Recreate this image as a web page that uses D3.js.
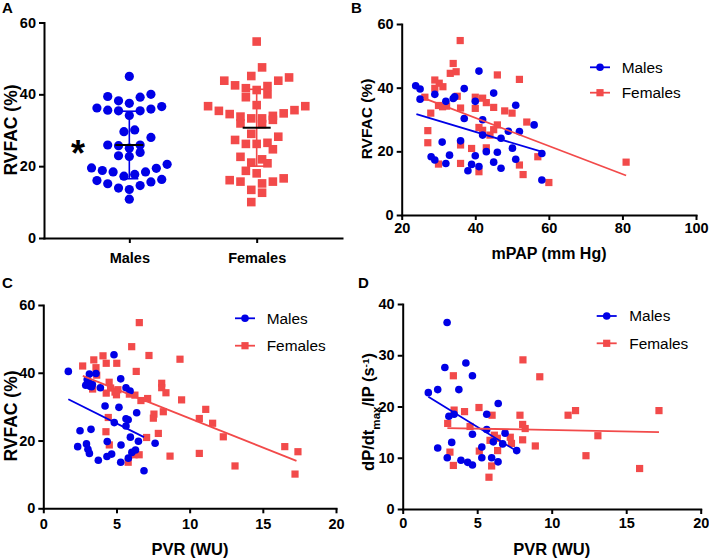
<!DOCTYPE html>
<html><head><meta charset="utf-8">
<script src="https://cdn.jsdelivr.net/npm/d3@7"></script>
<style>body{margin:0;background:#fff}svg{display:block}text{font-family:"Liberation Sans",Arial,sans-serif}</style>
</head><body><svg id="c" width="709" height="560"></svg>
<script>
const BLUE = "#0000e6", RED = "#f24a4a";

// ---------- Panel A ----------
const groupsA = ["Males", "Females"];
const malesA = [45.0,37.5,36.2,39.4,38.2,39.2,40.0,35.6,35.4,34.1,35.4,35.9,36.6,30.1,29.6,28.0,25.9,25.0,22.9,22.7,23.8,25.7,25.9,18.4,17.2,19.5,18.8,19.4,20.5,17.7,18.4,16.3,15.6,15.1,16.0,14.6,13.9,13.5,10.8];
const femalesA = [54.7,47.5,45.1,44.7,43.8,42.5,43.8,41.7,41.2,42.3,40.0,39.2,37.0,36.7,36.7,35.6,34.7,34.0,33.3,32.9,33.3,33.8,34.5,35.4,31.7,31.9,29.0,28.2,26.5,26.2,24.7,26.2,27.3,21.9,20.8,22.6,21.0,18.0,18.7,16.1,15.7,15.2,15.7,16.6,13.4,12.6,10.0];
const meanA = [25.9, 30.7];
const sdA = [9.4, 10.7];
const yTicksA = [0, 20, 40, 60];

// ---------- Panel B (mPAP vs RVFAC) ----------
const malesB = [[23.8,40.6],[25.0,39.6],[25.0,36.4],[29.0,37.9],[32.0,35.7],[34.0,36.6],[34.4,37.1],[37.0,39.7],[41.0,45.2],[40.0,35.7],[45.0,38.3],[51.0,34.5],[37.0,30.3],[42.0,29.9],[42.0,25.1],[49.0,26.3],[52.0,26.2],[56.0,28.3],[47.0,24.1],[50.1,21.0],[36.0,23.3],[31.0,22.9],[28.0,18.3],[29.0,17.3],[33.0,18.8],[32.0,16.2],[40.0,18.6],[39.0,15.9],[41.0,15.2],[38.0,13.9],[43.0,19.9],[46.0,19.7],[45.0,16.6],[51.0,17.5],[47.0,14.7],[58.1,19.3],[58.1,11.0]];
const femalesB = [[35.9,54.8],[34.0,47.6],[33.2,44.5],[34.8,45.0],[29.0,42.4],[30.2,41.4],[31.2,40.3],[29.0,39.8],[26.3,37.0],[27.9,32.0],[30.0,34.4],[31.1,34.0],[32.2,34.2],[35.1,37.3],[36.0,33.6],[40.0,37.0],[42.0,36.7],[43.0,35.3],[40.0,33.5],[45.0,33.8],[46.0,44.0],[52.0,42.6],[48.0,32.7],[50.0,32.0],[54.0,29.2],[41.0,27.5],[42.0,26.6],[44.0,25.1],[45.0,26.8],[46.0,28.3],[27.1,26.5],[27.1,22.7],[36.0,22.0],[39.0,20.9],[43.0,21.1],[36.0,16.2],[30.0,16.0],[41.0,13.6],[52.0,15.7],[53.0,12.7],[57.0,18.3],[60.0,10.2],[81.0,16.6]];
const fitMalesB = [[24, 31.7], [58, 19.9]];
const fitFemalesB = [[26, 36.7], [81, 12.4]];
const xTicksB = [20, 40, 60, 80, 100];
const yTicksB = [0, 20, 40, 60];

// ---------- Panel C (PVR vs RVFAC) ----------
const malesC = [[1.71,40.4],[4.83,45.3],[3.15,39.6],[3.6,39.8],[5.29,38.2],[3.0,38.0],[2.9,36.3],[3.2,36.0],[3.1,37.3],[3.35,36.6],[3.3,35.9],[3.9,35.6],[5.65,35.6],[5.93,34.6],[4.22,30.2],[5.17,29.8],[6.38,28.2],[5.65,26.4],[5.8,26.1],[4.85,25.3],[5.65,24.3],[2.51,22.9],[3.26,23.3],[5.95,21.0],[4.37,19.7],[6.5,19.8],[7.64,19.2],[2.35,18.2],[2.95,19.0],[3.05,17.4],[3.15,16.2],[5.31,18.7],[3.76,14.2],[4.35,15.3],[4.67,16.0],[5.29,13.6],[5.81,14.8],[6.05,16.5],[6.3,17.2],[6.88,11.1]];
const femalesC = [[6.56,54.8],[6.04,47.7],[7.22,45.1],[9.34,44.0],[2.69,42.0],[3.45,43.8],[4.08,45.0],[4.3,42.8],[5.02,42.8],[3.6,41.5],[3.65,39.3],[6.35,40.4],[3.37,35.2],[4.5,37.2],[4.6,35.5],[4.9,34.3],[5.0,33.5],[4.3,34.0],[5.1,35.0],[5.88,33.7],[6.26,33.4],[6.67,31.8],[7.13,32.4],[8.09,36.9],[8.09,35.6],[8.38,34.1],[9.45,32.0],[8.2,28.5],[7.56,27.8],[7.52,26.6],[10.66,26.5],[11.1,29.2],[11.57,25.1],[12.3,21.1],[7.86,22.1],[7.06,20.9],[4.28,22.6],[4.51,18.7],[6.2,15.8],[6.55,15.8],[5.8,13.6],[8.66,15.4],[10.66,16.2],[13.1,12.5],[16.5,18.2],[17.4,16.7],[17.2,10.1],[4.44,26.8]];
const fitMalesC = [[1.71, 32.2], [6.88, 21.0]];
const fitFemalesC = [[2.7, 39.1], [17.3, 14.0]];
const xTicksC = [0, 5, 10, 15, 20];
const yTicksC = [0, 20, 40, 60];

// ---------- Panel D (PVR vs dP/dtmax/IP) ----------
const malesD = [[2.98,36.4],[2.83,27.6],[4.24,28.5],[4.68,26.0],[1.72,22.7],[2.35,23.3],[3.77,23.3],[3.1,18.1],[3.45,18.5],[6.41,20.6],[5.64,18.5],[4.68,14.6],[5.64,15.5],[6.08,13.1],[6.87,14.8],[6.71,12.7],[7.65,11.4],[3.29,13.0],[2.35,11.9],[5.31,12.1],[2.99,10.0],[3.91,9.5],[4.36,9.1],[4.68,8.6],[5.31,10.0],[5.97,10.0],[6.4,9.2]];
const femalesD = [[8.07,29.1],[9.2,25.8],[3.4,26.0],[3.45,19.3],[4.15,19.0],[5.12,19.8],[6.0,18.3],[7.87,18.3],[8.05,16.5],[8.22,15.7],[3.02,16.7],[4.52,16.1],[6.15,14.4],[6.35,13.8],[5.86,13.4],[7.22,14.0],[7.3,12.8],[8.05,13.5],[8.9,12.3],[5.14,11.3],[3.17,11.1],[6.37,11.4],[3.4,8.5],[5.97,8.4],[5.79,6.2],[11.1,18.3],[11.6,19.2],[13.1,14.3],[12.3,10.4],[15.9,7.9],[17.2,19.2]];
const fitMalesD = [[1.72, 21.9], [7.65, 11.3]];
const fitFemalesD = [[3.0, 15.8], [17.2, 15.0]];
const xTicksD = [0, 5, 10, 15, 20];
const yTicksD = [0, 10, 20, 30, 40];

const seriesNames = ["Males", "Females"];

const svg = d3.select("#c");

function styleAxis(g, fs) {
  g.select(".domain").attr("stroke", "#000").attr("stroke-width", 2).attr("stroke-linecap", "square");
  g.selectAll(".tick line").attr("stroke", "#000").attr("stroke-width", 2);
  g.selectAll(".tick text").attr("fill", "#000").attr("font-weight", "bold").attr("font-size", fs)
    .attr("font-family", '"Liberation Sans",Arial,sans-serif');
}

function drawAxes(x, y, xAxisGen, yAxisGen) {
  const gx = svg.append("g").attr("transform", `translate(0,${y.range()[0]})`).call(xAxisGen);
  styleAxis(gx, 14.5);
  const gy = svg.append("g").attr("transform", `translate(${x.range()[0]},0)`).call(yAxisGen);
  styleAxis(gy, 14.5);
}

function circles(g, data, x, y, r, color) {
  g.selectAll(null).data(data).enter().append("circle")
    .attr("cx", d => x(d[0])).attr("cy", d => y(d[1])).attr("r", r).attr("fill", color);
}
function squares(g, data, x, y, s, color) {
  g.selectAll(null).data(data).enter().append("rect")
    .attr("x", d => x(d[0]) - s / 2).attr("y", d => y(d[1]) - s / 2)
    .attr("width", s).attr("height", s).attr("fill", color);
}
function fitLine(g, pts, x, y, color) {
  g.append("path").datum(pts)
    .attr("d", d3.line().x(d => x(d[0])).y(d => y(d[1])))
    .attr("stroke", color).attr("stroke-width", 1.8).attr("fill", "none");
}
function legend(lx, ly0, ly1, tx) {
  const g = svg.append("g");
  const rows = [[seriesNames[0], ly0, BLUE, "c"], [seriesNames[1], ly1, RED, "s"]];
  rows.forEach(([name, yy, col, shape]) => {
    g.append("line").attr("x1", lx - 10).attr("x2", lx + 10).attr("y1", yy).attr("y2", yy)
      .attr("stroke", col).attr("stroke-width", 1.8);
    if (shape === "c") g.append("circle").attr("cx", lx).attr("cy", yy).attr("r", 3.8).attr("fill", col);
    else g.append("rect").attr("x", lx - 3.6).attr("y", yy - 3.6).attr("width", 7.2).attr("height", 7.2).attr("fill", col);
    g.append("text").attr("x", tx).attr("y", yy + 5.3).attr("font-size", 15.4).attr("fill", "#000").text(name);
  });
}
function yTitle(x, cy, fs, str) {
  return svg.append("text").attr("transform", `translate(${x},${cy}) rotate(-90)`)
    .attr("text-anchor", "middle").attr("font-weight", "bold").attr("font-size", fs).attr("fill", "#000").text(str);
}
function xTitle(cx, y, fs, str) {
  svg.append("text").attr("x", cx).attr("y", y).attr("text-anchor", "middle")
    .attr("font-weight", "bold").attr("font-size", fs).attr("fill", "#000").text(str);
}
function panelLetter(x, y, s) {
  svg.append("text").attr("x", x).attr("y", y).attr("font-weight", "bold").attr("font-size", 15).attr("fill", "#000").text(s);
}

// row-binned dot-plot layout: values grouped into bins, spread side by side,
// smallest values nearest the centre
function dotRows(vals, binW, binOff, spacing) {
  const bins = d3.groups(vals, v => Math.floor((v - binOff) / binW));
  const out = [];
  bins.forEach(([, arr]) => {
    const s = arr.slice().sort((a, b) => a - b);
    const n = s.length;
    const offs = d3.range(n).map(i => (i - (n - 1) / 2) * spacing)
      .sort((a, b) => Math.abs(a) - Math.abs(b) || a - b);
    s.forEach((v, i) => out.push({ v, dx: offs[i] }));
  });
  return out;
}

// ===== Panel A =====
{
  const x = d3.scalePoint().domain(groupsA).range([44, 342]).padding(0.67);
  const y = d3.scaleLinear().domain([0, 60]).range([238, 22.5]);
  drawAxes(x, y,
    d3.axisBottom(x).tickSize(5).tickSizeOuter(0).tickPadding(10),
    d3.axisLeft(y).tickValues(yTicksA).tickSize(5).tickSizeOuter(0).tickPadding(3));
  const g = svg.append("g");
  const sm = dotRows(malesA, 4, 1, 10.8);
  g.selectAll(null).data(sm).enter().append("circle")
    .attr("cx", d => x("Males") + d.dx).attr("cy", d => y(d.v)).attr("r", 4.6).attr("fill", BLUE);
  const sf = dotRows(femalesA, 4, 1, 10.8);
  g.selectAll(null).data(sf).enter().append("rect")
    .attr("x", d => x("Females") + d.dx - 4.3).attr("y", d => y(d.v) - 4.3)
    .attr("width", 8.6).attr("height", 8.6).attr("fill", RED);
  // mean +/- SD
  groupsA.forEach((grp, i) => {
    const cx = x(grp), col = i === 0 ? BLUE : RED;
    const top = y(meanA[i] + sdA[i]), bot = y(meanA[i] - sdA[i]);
    g.append("line").attr("x1", cx).attr("x2", cx).attr("y1", top).attr("y2", bot).attr("stroke", col).attr("stroke-width", 1.6);
    [top, bot].forEach(yy => g.append("line").attr("x1", cx - 9).attr("x2", cx + 9).attr("y1", yy).attr("y2", yy).attr("stroke", col).attr("stroke-width", 1.6));
    g.append("line").attr("x1", cx - 14).attr("x2", cx + 14).attr("y1", y(meanA[i])).attr("y2", y(meanA[i])).attr("stroke", "#000").attr("stroke-width", 2);
  });
  // significance mark
  svg.append("text").attr("x", 78).attr("y", y(meanA[0]) + 21).attr("text-anchor", "middle")
    .attr("font-weight", "bold").attr("font-size", 36).attr("fill", "#000").text("*");
  yTitle(16.5, 130, 17.5, "RVFAC (%)");
  panelLetter(2, 13, "A");
}

// ===== Panel B =====
{
  const x = d3.scaleLinear().domain([20, 100]).range([401.7, 696]);
  const y = d3.scaleLinear().domain([0, 60]).range([215, 24]);
  drawAxes(x, y,
    d3.axisBottom(x).tickValues(xTicksB).tickSize(5).tickSizeOuter(0).tickPadding(3),
    d3.axisLeft(y).tickValues(yTicksB).tickSize(5).tickSizeOuter(0).tickPadding(3));
  const g = svg.append("g");
  squares(g, femalesB, x, y, 7.2, RED);
  circles(g, malesB, x, y, 3.8, BLUE);
  fitLine(g, fitMalesB, x, y, BLUE);
  fitLine(g, fitFemalesB, x, y, RED);
  legend(600, 67.3, 92.7, 621.7);
  yTitle(372, 119, 15.5, "RVFAC (%)");
  xTitle(549, 259, 16, "mPAP (mm Hg)");
  panelLetter(351, 13, "B");
}

// ===== Panel C =====
{
  const x = d3.scaleLinear().domain([0, 20]).range([43.3, 336]);
  const y = d3.scaleLinear().domain([0, 60]).range([508.3, 305]);
  drawAxes(x, y,
    d3.axisBottom(x).tickValues(xTicksC).tickSize(5).tickSizeOuter(0).tickPadding(5),
    d3.axisLeft(y).tickValues(yTicksC).tickSize(5).tickSizeOuter(0).tickPadding(3));
  const g = svg.append("g");
  squares(g, femalesC, x, y, 7.2, RED);
  circles(g, malesC, x, y, 3.8, BLUE);
  fitLine(g, fitMalesC, x, y, BLUE);
  fitLine(g, fitFemalesC, x, y, RED);
  legend(245, 318.3, 345.7, 266.7);
  yTitle(16.5, 416, 17.5, "RVFAC (%)");
  xTitle(190, 555, 16.5, "PVR (WU)");
  panelLetter(2, 288, "C");
}

// ===== Panel D =====
{
  const x = d3.scaleLinear().domain([0, 20]).range([402.7, 700.7]);
  const y = d3.scaleLinear().domain([0, 40]).range([509, 304]);
  drawAxes(x, y,
    d3.axisBottom(x).tickValues(xTicksD).tickSize(5).tickSizeOuter(0).tickPadding(4),
    d3.axisLeft(y).tickValues(yTicksD).tickSize(5).tickSizeOuter(0).tickPadding(3));
  const g = svg.append("g");
  squares(g, femalesD, x, y, 7.2, RED);
  circles(g, malesD, x, y, 3.8, BLUE);
  fitLine(g, fitMalesD, x, y, BLUE);
  fitLine(g, fitFemalesD, x, y, RED);
  legend(606.7, 316, 343.3, 629.3);
  const t = yTitle(374, 412, 16.5, "");
  t.append("tspan").text("dP/dt");
  t.append("tspan").attr("baseline-shift", "sub").attr("font-size", "70%").text("max");
  t.append("tspan").text("/IP (s");
  t.append("tspan").attr("baseline-shift", "super").attr("font-size", "60%").text("-1");
  t.append("tspan").text(")");
  xTitle(551.7, 555, 16.5, "PVR (WU)");
  panelLetter(358, 288, "D");
}
</script></body></html>
